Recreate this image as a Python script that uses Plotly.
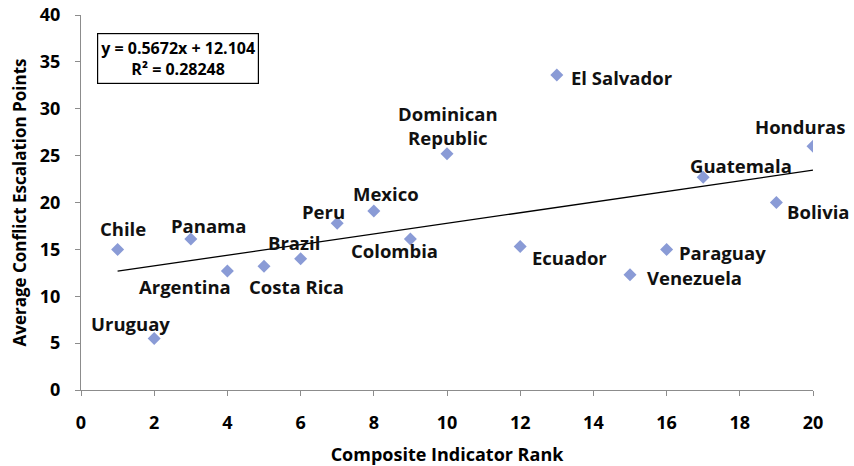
import plotly.graph_objects as go

countries = ["Chile", "Uruguay", "Panama", "Argentina", "Costa Rica", "Brazil", "Peru",
             "Mexico", "Colombia", "Dominican<br>Republic", "Ecuador", "El Salvador",
             "Venezuela", "Paraguay", "Guatemala", "Bolivia", "Honduras"]
rank = [1, 2, 3, 4, 5, 6, 7, 8, 9, 10, 12, 13, 15, 16, 17, 19, 20]
points = [15.0, 5.5, 16.1, 12.7, 13.2, 14.0, 17.8, 19.1, 16.1, 25.2, 15.3, 33.6,
          12.3, 15.0, 22.7, 20.0, 26.0]
slope = 0.5672
intercept = 12.104
r_squared = 0.28248

# label offsets in pixels (style only)
offsets = {
    "Chile": (5, 21), "Uruguay": (-24, 15), "Panama": (18, 14), "Argentina": (-42, -16),
    "Costa Rica": (32, -20), "Brazil": (-7, 16), "Peru": (-14, 12), "Mexico": (12, 17),
    "Colombia": (-16, -11), "Dominican<br>Republic": (1, 28), "Ecuador": (10, -11),
    "El Salvador": (12, -2), "Venezuela": (15, -3), "Paraguay": (10, -3),
    "Guatemala": (38, 12), "Bolivia": (9, -9), "Honduras": (-13, 20),
}
anchors = {
    "Ecuador": "left", "El Salvador": "left", "Venezuela": "left", "Paraguay": "left",
    "Bolivia": "left",
}

FONT = "'Open Sans', sans-serif"

fig = go.Figure()
tx = [min(rank), max(rank)]
fig.add_trace(go.Scatter(x=tx, y=[slope * v + intercept for v in tx], mode="lines",
                         line=dict(color="black", width=1.3), hoverinfo="skip"))
fig.add_trace(go.Scatter(x=rank, y=points, mode="markers",
                         marker=dict(symbol="diamond", size=10, color="#8a9bd6",
                                     line=dict(width=0))))

for c, xv, yv in zip(countries, rank, points):
    dx, dy = offsets[c]
    fig.add_annotation(x=xv, y=yv, text="<b>%s</b>" % c, showarrow=False,
                       xshift=dx, yshift=dy, xanchor=anchors.get(c, "center"),
                       yanchor="middle", font=dict(family=FONT, size=18.5, color="#111"),
                       align="center")

fig.add_annotation(xref="paper", yref="paper", x=0.022, y=0.952, xanchor="left", yanchor="top",
                   text="<b>y = %.4fx + %.3f</b><br><b>R² = %.5f</b>" % (slope, intercept, r_squared),
                   showarrow=False, bordercolor="black", borderwidth=1.2, borderpad=3,
                   bgcolor="white", align="center",
                   font=dict(family=FONT, size=16, color="black"))

fig.update_layout(
    width=854, height=466, showlegend=False,
    paper_bgcolor="white", plot_bgcolor="white",
    margin=dict(l=81, r=41, t=15, b=76),
    font=dict(family=FONT, color="black"),
    xaxis=dict(range=[0, 20], dtick=2, showgrid=False, zeroline=False, automargin=False,
               showline=True, linecolor="#8c8c8c", linewidth=1.2,
               ticks="outside", ticklen=5, tickcolor="#8c8c8c", ticklabelstandoff=11,
               ticklabeloverflow="allow",
               tickfont=dict(family=FONT, size=18, color="black"),
               title=dict(text="<b>Composite Indicator Rank</b>", standoff=20,
                          font=dict(family=FONT, size=18, color="black"))),
    yaxis=dict(range=[0, 40], dtick=5, showgrid=False, zeroline=False, automargin=False,
               showline=True, linecolor="#8c8c8c", linewidth=1.2,
               ticks="outside", ticklen=5, tickcolor="#8c8c8c", ticklabelstandoff=11,
               ticklabeloverflow="allow",
               tickfont=dict(family=FONT, size=18, color="black"),
               title=dict(text="<b>Average Conflict Escalation Points</b>", standoff=8,
                          font=dict(family=FONT, size=17, color="black"))),
)
fig.update_xaxes(tickprefix="<b>", ticksuffix="</b>")
fig.update_yaxes(tickprefix="<b>", ticksuffix="</b>")

fig.write_html("out.html", config={"displayModeBar": False},
               post_script="document.body.style.margin='0px';document.body.style.overflow='hidden';")
